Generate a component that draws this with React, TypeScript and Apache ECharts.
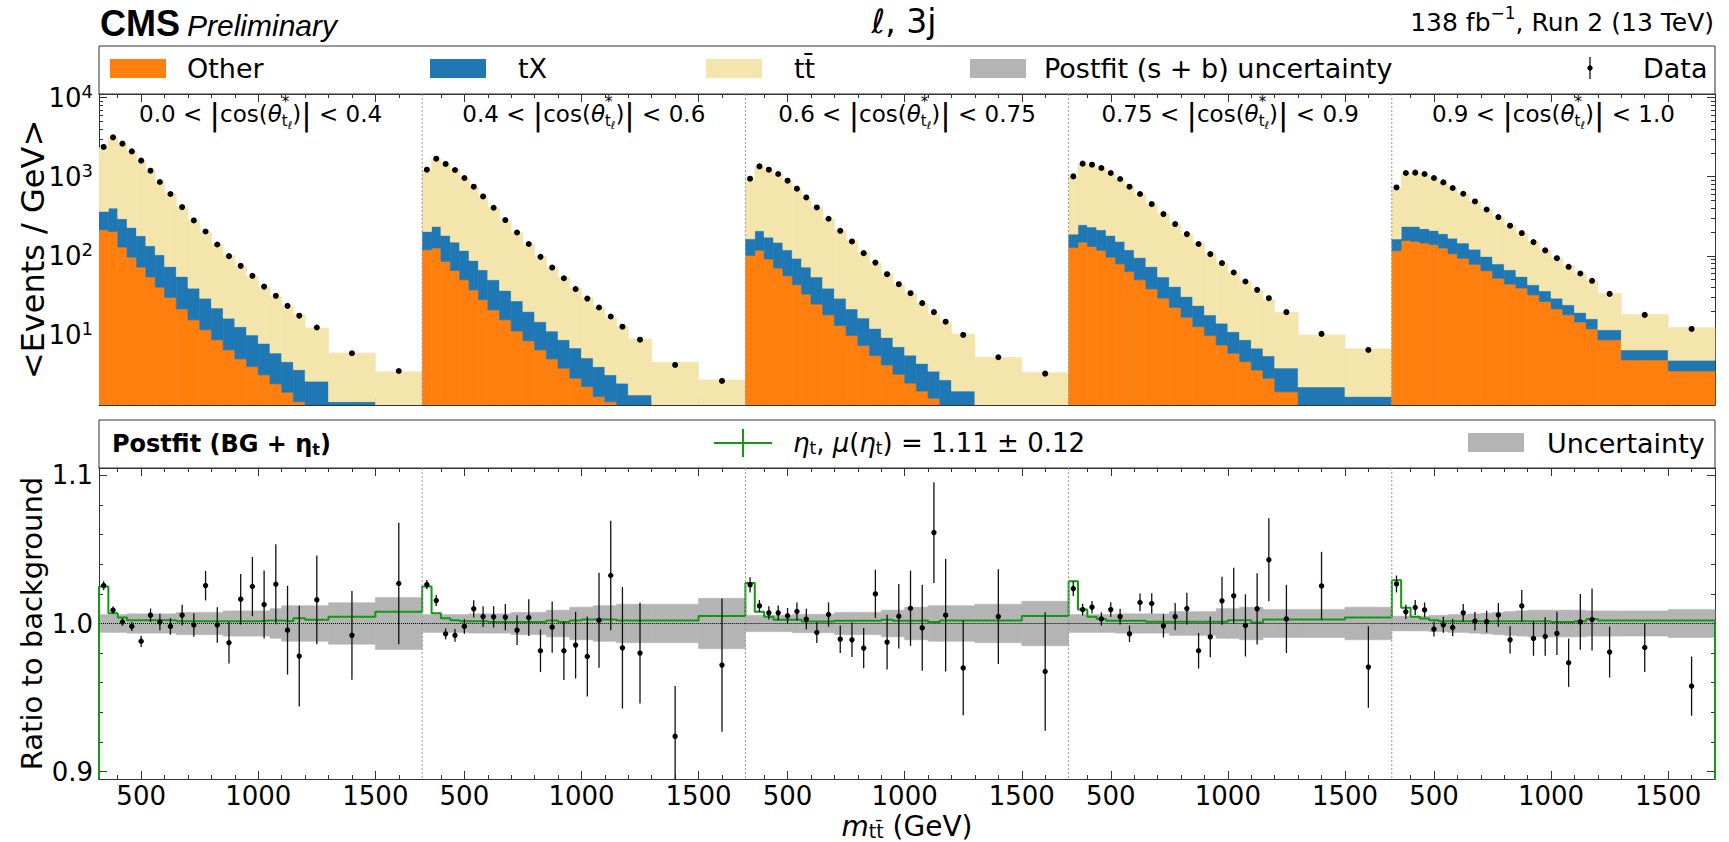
import React, { useEffect, useRef } from 'react';
import * as echarts from 'echarts';

// ---------------- binning / ticks ----------------
const EDGES = [320, 360, 400, 440, 480, 520, 560, 600, 650, 700, 750, 800, 850, 900, 950, 1000, 1050, 1100, 1150, 1200, 1300, 1500, 1700];
const SLICE_BOUNDS = [['0.0', '0.4'], ['0.4', '0.6'], ['0.6', '0.75'], ['0.75', '0.9'], ['0.9', '1.0']];
const X_MAJOR = [500, 1000, 1500];
const X_MINOR = [400, 600, 700, 800, 900, 1100, 1200, 1300, 1400, 1600];
const Y_LOG_MAJOR = [10, 100, 1000, 10000];
const Y_LOG_MINOR = [2, 3, 4, 5, 6, 7, 8, 9, 20, 30, 40, 50, 60, 70, 80, 90, 200, 300, 400, 500, 600, 700, 800, 900, 2000, 3000, 4000, 5000, 6000, 7000, 8000, 9000];
const R_MAJOR = [0.9, 1.0, 1.1];
const R_MINOR = [0.92, 0.94, 0.96, 0.98, 1.02, 1.04, 1.06, 1.08];

// ---------------- top panel: yields per GeV ----------------
const OTHER = [
  [213, 203, 129, 96, 72, 54, 40, 29.7, 21.3, 15.5, 11.6, 8.65, 6.46, 4.97, 3.97, 3.12, 2.4, 1.88, 1.43, 1.0, 0.5, 0.4],
  [119, 125, 85, 65, 49.7, 37, 27.8, 20.7, 15.5, 11.2, 8.4, 6.46, 4.97, 3.79, 2.83, 2.22, 1.66, 1.43, 1.1, 0.9, 0.6, 0.5],
  [101, 117, 91, 70, 55.8, 43, 32.7, 24.5, 17.9, 13.1, 9.8, 7.33, 5.47, 4.17, 3.18, 2.45, 1.95, 1.58, 1.2, 1.0, 0.7, 0.5],
  [127, 149, 131, 117, 96, 79, 63, 49.7, 38.2, 29.1, 22.2, 16.7, 12.7, 9.8, 7.46, 5.86, 4.59, 3.6, 2.83, 1.91, 1.0, 0.8],
  [116, 156, 152, 145, 138, 125, 106, 93, 78, 64.6, 52, 43.8, 39, 32, 26.4, 21.3, 17.9, 14.5, 11.9, 8.65, 4.83, 3.5],
];
const TX = [
  [151, 198, 165, 132, 107, 80, 63, 43.3, 33.4, 23.5, 17.5, 13.2, 9.8, 7.7, 6.0, 4.7, 3.5, 2.7, 2.2, 1.6, 0.93, 0.5],
  [84, 110, 96, 84, 67, 50, 38.7, 29, 20.9, 15.7, 11.3, 8.2, 6.2, 4.9, 4.0, 2.9, 2.3, 1.7, 1.35, 0.84, 0.4, 0.3],
  [63, 90, 81, 78, 63, 50, 39.3, 29.5, 21.1, 16, 11.5, 9.0, 6.6, 5.1, 3.9, 3.1, 2.4, 1.9, 1.5, 0.95, 0.3, 0.3],
  [61, 98, 100, 96, 85, 73, 56, 45.3, 34.8, 24.9, 18.6, 13.8, 10.8, 8.1, 6.6, 5.1, 4.1, 3.2, 2.6, 1.9, 1.2, 0.86],
  [47, 79, 83, 75, 71, 65, 61, 52, 43, 33.4, 27, 22.7, 15.7, 11, 9.6, 7.8, 6.1, 4.7, 4.1, 2.95, 1.63, 1.28],
];
const TTBAR = [
  [1954, 2719, 2321, 1865, 1435, 1050, 753, 532, 356, 241, 169, 117, 84, 60.7, 44.4, 32.4, 24.5, 18.8, 14.3, 9.6, 4.48, 2.51],
  [993, 1429, 1278, 1077, 848, 653, 494, 353, 246, 171, 120, 84.1, 60, 44.4, 31.8, 24.3, 18.2, 13.5, 10.4, 7.14, 3.51, 1.9],
  [756, 1127, 1046, 926, 766, 606, 473, 358, 253, 180, 133, 93.7, 68.3, 50, 36.5, 27.8, 20.9, 14.8, 11.9, 8.35, 4.2, 2.55],
  [798, 1201, 1173, 1071, 923, 779, 633, 501, 372, 284, 210, 156, 120, 88, 65.7, 49.4, 38.8, 29.9, 22.4, 15.5, 7.78, 5.0],
  [550, 870, 878, 852, 758, 658, 555, 460, 365, 287, 228, 177, 137, 108, 82, 64.8, 50.6, 40.4, 32.2, 22, 11.7, 7.6],
];
const DATA = [
  [2377, 3148, 2618, 2089, 1595, 1191, 857, 604, 413, 280, 203, 139, 99, 74.6, 55.8, 40.8, 31.2, 23.3, 17.5, 12.4, 5.86, 3.5],
  [1227, 1690, 1449, 1216, 963, 747, 563, 405, 283, 197, 141, 97, 71, 52, 38, 28.8, 22.2, 17.1, 12.7, 8.7, 4.17, 2.62],
  [944, 1350, 1227, 1082, 890, 705, 547, 409, 294, 207, 152, 108, 82, 58.6, 43.8, 33.7, 25.2, 19.4, 14.7, 10.0, 5.22, 3.24],
  [1009, 1462, 1419, 1288, 1114, 935, 747, 604, 451, 337, 252, 188, 141, 105, 81, 61.5, 47.3, 37.1, 29.1, 19.4, 10.3, 6.46],
  [732, 1114, 1125, 1082, 963, 847, 720, 609, 487, 385, 309, 240, 194, 149, 117, 93.3, 72.6, 59.7, 48.3, 33, 17.9, 11.9],
];

// ---------------- bottom panel: ratio to background ----------------
const RATIO = [
  [1.0256, 1.009, 1.001, 0.998, 0.988, 1.0056, 1.001, 0.998, 1.0056, 0.999, 1.0256, 0.999, 0.987, 1.0164, 1.025, 1.0128, 1.0265, 0.9955, 0.978, 1.016, 0.992, 1.027],
  [1.0263, 1.0155, 0.993, 0.992, 0.998, 1.0099, 1.0047, 1.0045, 1.0043, 0.9955, 1.004, 0.9816, 0.9975, 0.9816, 0.9854, 0.9777, 1.0022, 1.0324, 0.9836, 0.98, 0.9238, 0.9719],
  [1.0261, 1.0119, 1.0072, 1.0072, 1.0052, 1.0081, 1.0029, 0.9939, 1.0061, 0.9894, 0.989, 0.9834, 1.02, 0.9874, 1.0049, 1.0103, 0.9971, 1.0614, 1.0056, 0.97, 1.0047, 0.9676],
  [1.0236, 1.0094, 1.011, 1.0031, 1.0094, 1.0047, 0.993, 1.0142, 1.0135, 0.9984, 1.0047, 1.0101, 0.9816, 0.991, 1.0153, 1.0187, 0.9987, 1.0099, 1.043, 1.0031, 1.0254, 0.9706],
  [1.0267, 1.0079, 1.0108, 1.0092, 0.9962, 0.9991, 0.9973, 1.0072, 1.0016, 1.0013, 1.0058, 0.989, 1.0119, 0.9899, 0.9912, 0.9933, 0.9735, 1.0011, 1.0027, 0.9807, 0.9838, 0.9577],
];
const RATIO_ERR = [
  [0.003, 0.0025, 0.0025, 0.003, 0.0038, 0.0045, 0.0056, 0.0056, 0.007, 0.008, 0.01, 0.012, 0.014, 0.017, 0.02, 0.023, 0.027, 0.03, 0.034, 0.03, 0.03, 0.041],
  [0.003, 0.0037, 0.0037, 0.0043, 0.005, 0.0058, 0.007, 0.0072, 0.0088, 0.01, 0.0124, 0.0144, 0.0173, 0.0198, 0.0225, 0.027, 0.032, 0.037, 0.041, 0.034, 0.034, 0.045],
  [0.0052, 0.004, 0.0045, 0.005, 0.0053, 0.006, 0.007, 0.007, 0.0082, 0.0093, 0.0116, 0.0136, 0.0163, 0.0185, 0.0217, 0.0254, 0.029, 0.034, 0.038, 0.032, 0.032, 0.04],
  [0.005, 0.004, 0.0042, 0.0045, 0.005, 0.0053, 0.0056, 0.006, 0.007, 0.0079, 0.0092, 0.0107, 0.012, 0.0138, 0.0162, 0.0189, 0.021, 0.024, 0.028, 0.023, 0.023, 0.0275],
  [0.0057, 0.0048, 0.005, 0.005, 0.005, 0.0054, 0.0057, 0.006, 0.0064, 0.0073, 0.008, 0.0092, 0.0107, 0.0117, 0.013, 0.0146, 0.0163, 0.0188, 0.021, 0.0172, 0.0165, 0.02],
];
const SIGNAL_RATIO = [
  [1.025, 1.007, 1.004, 1.0022, 1.0022, 1.0022, 1.0022, 1.0022, 1.0016, 1.0016, 1.0016, 1.0016, 1.0016, 1.0016, 1.0016, 1.002, 1.002, 1.0016, 1.0036, 1.0025, 1.0045, 1.008],
  [1.025, 1.007, 1.0036, 1.0022, 1.0016, 1.0016, 1.0016, 1.001, 1.001, 1.001, 1.001, 1.001, 1.002, 1.001, 1.002, 1.0027, 1.0027, 1.0027, 1.002, 1.002, 1.002, 1.005],
  [1.0274, 1.0079, 1.0045, 1.0025, 1.0025, 1.0025, 1.0013, 1.0013, 1.0013, 1.0018, 1.0018, 1.0018, 1.0018, 1.0025, 1.0018, 1.0018, 1.002, 1.001, 1.002, 1.002, 1.002, 1.005],
  [1.0285, 1.0094, 1.0045, 1.003, 1.0018, 1.0018, 1.0018, 1.0018, 1.0011, 1.0011, 1.0011, 1.0011, 1.0011, 1.0011, 1.0011, 1.0022, 1.0022, 1.0007, 1.0027, 1.0027, 1.0027, 1.004],
  [1.0292, 1.0106, 1.0045, 1.0034, 1.0022, 1.0016, 1.0016, 1.0016, 1.0016, 1.0016, 1.0016, 1.0016, 1.0016, 1.0016, 1.0016, 1.001, 1.001, 1.0016, 1.003, 1.002, 1.002, 1.002],
];
const UNCERTAINTY = [
  [0.006, 0.006, 0.006, 0.0065, 0.0065, 0.0065, 0.0065, 0.0065, 0.0075, 0.0075, 0.0075, 0.0075, 0.0085, 0.0085, 0.0085, 0.0085, 0.01, 0.012, 0.012, 0.012, 0.014, 0.0175],
  [0.006, 0.006, 0.006, 0.006, 0.006, 0.0065, 0.0065, 0.0065, 0.0065, 0.0075, 0.0075, 0.0075, 0.009, 0.009, 0.011, 0.011, 0.012, 0.012, 0.013, 0.013, 0.013, 0.017],
  [0.0055, 0.0055, 0.0055, 0.0055, 0.0055, 0.0062, 0.0062, 0.0062, 0.0062, 0.0075, 0.0075, 0.0075, 0.0075, 0.009, 0.009, 0.011, 0.011, 0.012, 0.012, 0.012, 0.013, 0.015],
  [0.006, 0.006, 0.006, 0.006, 0.006, 0.0065, 0.0065, 0.0065, 0.0065, 0.0065, 0.008, 0.008, 0.008, 0.008, 0.01, 0.01, 0.011, 0.011, 0.0095, 0.0095, 0.0095, 0.011],
  [0.005, 0.005, 0.005, 0.005, 0.0055, 0.0055, 0.006, 0.006, 0.0065, 0.007, 0.0075, 0.008, 0.0085, 0.009, 0.009, 0.009, 0.009, 0.009, 0.0085, 0.0085, 0.0085, 0.0095],
];

// ---------------- layout & style ----------------
const L = 99;
const R = 1715;
const SW = (R - L) / 5;
const LEG1_Y = 46;
const TOP_Y = 94;
const TOP_H = 311;
const LEG2_Y = 420;
const BOT_Y = 468;
const BOT_H = 311;
const Y_MIN = 1.3;
const Y_MAX = 11100;
const LOG_FLOOR = 1e-3;
const R_MIN = 0.895;
const R_MAX = 1.105;
const FONT = '"DejaVu Sans", sans-serif';
const SANS = '"Liberation Sans", Arial, sans-serif';
const FRAME = '#333333';
const C_OTHER = '#ff7f0e';
const C_TX = '#1f77b4';
const C_TT = '#f3e5ab';
const C_UNC = '#b4b4b4';
const C_SIG = '#119911';

type Seg = { t: string; size: number; style?: string; weight?: string; dy?: number; adv?: boolean; family?: string };

let measureCtx: CanvasRenderingContext2D | null = null;
function fontOf(s: Seg) {
  return `${s.style || 'normal'} ${s.weight || 'normal'} ${s.size}px ${s.family || FONT}`;
}
function widthOf(s: Seg) {
  if (!measureCtx) measureCtx = document.createElement('canvas').getContext('2d');
  measureCtx!.font = fontOf(s);
  return measureCtx!.measureText(s.t).width;
}
function mathText(segs: Seg[], x: number, y: number, align: 'left' | 'center' | 'right', z = 100): any[] {
  const widths = segs.map(widthOf);
  const total = segs.reduce((acc, s, i) => acc + (s.adv === false ? 0 : widths[i]), 0);
  let cx = align === 'left' ? x : align === 'center' ? x - total / 2 : x - total;
  const out: any[] = [];
  segs.forEach((s, i) => {
    out.push({
      type: 'text',
      z,
      silent: true,
      style: {
        text: s.t,
        x: cx,
        y: y + (s.dy || 0),
        font: fontOf(s),
        fill: '#000',
        align: 'left',
        textAlign: 'left',
        verticalAlign: 'middle',
        textVerticalAlign: 'middle',
      },
    });
    if (s.adv !== false) cx += widths[i];
  });
  return out;
}

function histSeries(g: number, lows: number[], highs: number[], color: string, z: number) {
  const data = lows.map((lo, i) => [EDGES[i], EDGES[i + 1], lo, highs[i]]);
  return {
    type: 'custom',
    xAxisIndex: 4 * g,
    yAxisIndex: 2 * g,
    clip: true,
    silent: true,
    z,
    encode: { x: [0, 1], y: [2, 3] },
    data,
    renderItem: (_p: any, api: any) => {
      const y0 = api.value(2);
      const y1 = api.value(3);
      if (!(y1 > y0)) return null;
      const a = api.coord([api.value(0), y1]);
      const b = api.coord([api.value(1), y0]);
      return {
        type: 'rect',
        shape: { x: a[0], y: a[1], width: b[0] - a[0], height: b[1] - a[1] },
        style: { fill: color, stroke: color, lineWidth: 0.6 },
      };
    },
  };
}

function buildOption() {
  const grid: any[] = [];
  const xAxis: any[] = [];
  const yAxis: any[] = [];
  const series: any[] = [];
  const line = { color: FRAME, width: 1 };

  for (let panel = 0; panel < 2; panel++) {
    for (let k = 0; k < 5; k++) {
      const g = panel * 5 + k;
      grid.push({ left: L + k * SW, top: panel ? BOT_Y : TOP_Y, width: SW, height: panel ? BOT_H : TOP_H });
      const xc = { type: 'value', gridIndex: g, min: 320, max: 1700, splitLine: { show: false } };
      xAxis.push({
        ...xc, position: 'bottom',
        axisLine: { show: true, lineStyle: line },
        axisTick: { show: true, inside: true, length: 8, customValues: X_MAJOR, lineStyle: line },
        axisLabel: {
          show: panel === 1, customValues: X_MAJOR, fontSize: 26, fontFamily: FONT, color: '#000', margin: 4,
          formatter: (v: number) => String(Math.round(v)),
        },
      });
      xAxis.push({
        ...xc, position: 'bottom',
        axisLine: { show: false },
        axisTick: { show: true, inside: true, length: 4, customValues: X_MINOR, lineStyle: line },
        axisLabel: { show: false },
      });
      xAxis.push({
        ...xc, position: 'top',
        axisLine: { show: true, lineStyle: line },
        axisTick: { show: true, inside: true, length: 8, customValues: X_MAJOR, lineStyle: line },
        axisLabel: { show: false },
      });
      xAxis.push({
        ...xc, position: 'top',
        axisLine: { show: false },
        axisTick: { show: true, inside: true, length: 4, customValues: X_MINOR, lineStyle: line },
        axisLabel: { show: false },
      });

      const yc: any = panel === 0
        ? { type: 'log', logBase: 10, min: Y_MIN, max: Y_MAX }
        : { type: 'value', min: R_MIN, max: R_MAX };
      const major = panel === 0 ? Y_LOG_MAJOR : R_MAJOR;
      const minor = panel === 0 ? Y_LOG_MINOR : R_MINOR;
      const visible = k === 0 || k === 4;
      const position = k === 4 ? 'right' : 'left';
      const labelCfg: any = panel === 0
        ? {
            show: k === 0, customValues: major, margin: 6,
            formatter: (v: number) => `{b|10}{s|${Math.round(Math.log10(v))}}`,
            rich: {
              b: { fontSize: 26, fontFamily: FONT, color: '#000', lineHeight: 30 },
              s: { fontSize: 18, fontFamily: FONT, color: '#000', lineHeight: 20, verticalAlign: 'top' },
            },
          }
        : {
            show: k === 0, customValues: major, margin: 6, fontSize: 26, fontFamily: FONT, color: '#000',
            formatter: (v: number) => v.toFixed(1),
          };
      yAxis.push({
        ...yc, gridIndex: g, position, show: visible, splitLine: { show: false },
        axisLine: { show: true, lineStyle: line },
        axisTick: { show: true, inside: true, length: 8, customValues: major, lineStyle: line },
        axisLabel: labelCfg,
      });
      yAxis.push({
        ...yc, gridIndex: g, position, show: visible, splitLine: { show: false },
        axisLine: { show: false },
        axisTick: { show: true, inside: true, length: 4, customValues: minor, lineStyle: line },
        axisLabel: { show: false },
      });

      if (panel === 0) {
        const other = OTHER[k];
        const txTop = other.map((v, i) => v + TX[k][i]);
        const total = txTop.map((v, i) => v + TTBAR[k][i]);
        series.push(histSeries(g, other.map(() => LOG_FLOOR), other, C_OTHER, 2));
        series.push(histSeries(g, other, txTop, C_TX, 2));
        series.push(histSeries(g, txTop, total, C_TT, 2));
        series.push({
          type: 'scatter', xAxisIndex: 4 * g, yAxisIndex: 2 * g, silent: true, z: 5,
          symbolSize: 6, itemStyle: { color: '#000', opacity: 1 },
          data: DATA[k].map((v, i) => [(EDGES[i] + EDGES[i + 1]) / 2, v]),
        });
      } else {
        const u = UNCERTAINTY[k];
        series.push(histSeries(g, u.map((e) => 1 - e), u.map((e) => 1 + e), C_UNC, 1));
        const sig = SIGNAL_RATIO[k];
        const prev = k === 0 ? 0.8 : SIGNAL_RATIO[k - 1][SIGNAL_RATIO[k - 1].length - 1];
        const pts: number[][] = [[EDGES[0], prev]];
        sig.forEach((v, i) => pts.push([EDGES[i], v]));
        pts.push([EDGES[EDGES.length - 1], sig[sig.length - 1]]);
        if (k === 4) pts.push([EDGES[EDGES.length - 1], 0.8]);
        series.push({
          type: 'line', xAxisIndex: 4 * g, yAxisIndex: 2 * g, step: 'end', symbol: 'none', silent: true, z: 3,
          lineStyle: { color: C_SIG, width: 2 }, data: pts,
          markLine: {
            silent: true, symbol: ['none', 'none'], label: { show: false },
            lineStyle: { color: '#000', type: 'dotted', width: 1 },
            data: [{ yAxis: 1 }],
          },
        });
        series.push({
          type: 'custom', xAxisIndex: 4 * g, yAxisIndex: 2 * g, clip: true, silent: true, z: 5,
          encode: { x: 0, y: 1 },
          data: RATIO[k].map((v, i) => [(EDGES[i] + EDGES[i + 1]) / 2, v, RATIO_ERR[k][i]]),
          renderItem: (_p: any, api: any) => {
            const x = api.value(0);
            const y = api.value(1);
            const e = api.value(2);
            const p = api.coord([x, y]);
            const t = api.coord([x, y + e]);
            const b = api.coord([x, y - e]);
            return {
              type: 'group',
              children: [
                { type: 'line', shape: { x1: p[0], y1: t[1], x2: p[0], y2: b[1] }, style: { stroke: '#111', lineWidth: 1.3 } },
                { type: 'circle', shape: { cx: p[0], cy: p[1], r: 2.7 }, style: { fill: '#000' } },
              ],
            };
          },
        });
      }
    }
  }

  // ---------------- graphic: frames, legends, titles ----------------
  const G: any[] = [];
  G.push({ type: 'rect', z: 100, silent: true, shape: { x: L, y: LEG1_Y, width: R - L, height: TOP_Y - LEG1_Y }, style: { fill: 'none', stroke: FRAME, lineWidth: 1 } });
  G.push({ type: 'rect', z: 100, silent: true, shape: { x: L, y: LEG2_Y, width: R - L, height: BOT_Y - LEG2_Y }, style: { fill: 'none', stroke: FRAME, lineWidth: 1 } });
  for (let k = 1; k < 5; k++) {
    const x = L + k * SW;
    for (const [y0, h] of [[TOP_Y, TOP_H], [BOT_Y, BOT_H]]) {
      G.push({ type: 'line', z: 100, silent: true, shape: { x1: x, y1: y0, x2: x, y2: y0 + h }, style: { stroke: '#999', lineWidth: 1, lineDash: [2, 2] } });
    }
  }
  // top legend
  const patch = (x: number, y: number, color: string) =>
    ({ type: 'rect', z: 100, silent: true, shape: { x, y, width: 56, height: 19 }, style: { fill: color } });
  G.push(patch(110, 59, C_OTHER), patch(430, 59, C_TX), patch(706, 59, C_TT), patch(970, 59, C_UNC));
  G.push(...mathText([{ t: 'Other', size: 27 }], 187, 68, 'left'));
  G.push(...mathText([{ t: 'tX', size: 27 }], 518, 68, 'left'));
  G.push(...mathText([{ t: 'tt\u0304', size: 27 }], 794, 68, 'left'));
  G.push(...mathText([{ t: 'Postfit (s + b) uncertainty', size: 27 }], 1044, 68, 'left'));
  G.push({ type: 'line', z: 100, silent: true, shape: { x1: 1590, y1: 57, x2: 1590, y2: 79 }, style: { stroke: '#111', lineWidth: 1.3 } });
  G.push({ type: 'circle', z: 100, silent: true, shape: { cx: 1590, cy: 68, r: 2.7 }, style: { fill: '#000' } });
  G.push(...mathText([{ t: 'Data', size: 27 }], 1643, 68, 'left'));

  // bottom legend
  G.push(...mathText([
    { t: 'Postfit (BG + ', size: 24, weight: 'bold' },
    { t: '\u03b7', size: 24, weight: 'bold' },
    { t: 't', size: 16, weight: 'bold', dy: 5 },
    { t: ')', size: 24, weight: 'bold' },
  ], 112, 444, 'left'));
  G.push({ type: 'line', z: 100, silent: true, shape: { x1: 714, y1: 443, x2: 772, y2: 443 }, style: { stroke: C_SIG, lineWidth: 2 } });
  G.push({ type: 'line', z: 100, silent: true, shape: { x1: 743, y1: 429, x2: 743, y2: 457 }, style: { stroke: C_SIG, lineWidth: 2 } });
  G.push(...mathText([
    { t: '\u03b7', size: 26, style: 'italic' },
    { t: 't', size: 17, dy: 5 },
    { t: ', ', size: 26 },
    { t: '\u03bc', size: 26, style: 'italic' },
    { t: '(', size: 26 },
    { t: '\u03b7', size: 26, style: 'italic' },
    { t: 't', size: 17, dy: 5 },
    { t: ') = 1.11 \u00b1 0.12', size: 26 },
  ], 793, 443, 'left'));
  G.push({ type: 'rect', z: 100, silent: true, shape: { x: 1468, y: 433, width: 56, height: 19 }, style: { fill: C_UNC } });
  G.push(...mathText([{ t: 'Uncertainty', size: 27 }], 1547, 443, 'left'));

  // slice labels
  SLICE_BOUNDS.forEach(([lo, hi], k) => {
    G.push(...mathText([
      { t: `${lo} < `, size: 23 },
      { t: '|', size: 31 },
      { t: 'cos(', size: 23 },
      { t: '\u03b8', size: 23, style: 'italic' },
      { t: '*', size: 15, dy: -12, adv: false },
      { t: 't', size: 15, dy: 7 },
      { t: '\u2113', size: 11, dy: 11 },
      { t: ')', size: 23 },
      { t: '|', size: 31 },
      { t: ` < ${hi}`, size: 23 },
    ], L + (k + 0.5) * SW, 114, 'center'));
  });

  // header
  const cmsSeg: Seg = { t: 'CMS', size: 36, weight: 'bold', family: SANS };
  G.push(...mathText([cmsSeg], 100, 23, 'left'));
  G.push(...mathText([{ t: 'Preliminary', size: 30, style: 'italic', family: SANS }], 100 + widthOf(cmsSeg) + 7, 25, 'left'));
  G.push(...mathText([{ t: '\u2113, 3j', size: 33 }], 904, 21, 'center'));
  G.push(...mathText([
    { t: '138 fb', size: 25 },
    { t: '\u22121', size: 17, dy: -9 },
    { t: ', Run 2 (13 TeV)', size: 25 },
  ], 1714, 22, 'right'));

  // axis titles
  G.push({
    type: 'text', z: 100, silent: true, x: 33, y: TOP_Y + TOP_H / 2, rotation: Math.PI / 2,
    style: { text: '<Events / GeV>', x: 0, y: 0, font: `32px ${FONT}`, fill: '#000', align: 'center', textAlign: 'center', verticalAlign: 'middle', textVerticalAlign: 'middle' },
  });
  G.push({
    type: 'text', z: 100, silent: true, x: 32, y: BOT_Y + BOT_H / 2, rotation: Math.PI / 2,
    style: { text: 'Ratio to background', x: 0, y: 0, font: `29px ${FONT}`, fill: '#000', align: 'center', textAlign: 'center', verticalAlign: 'middle', textVerticalAlign: 'middle' },
  });
  G.push(...mathText([
    { t: 'm', size: 28, style: 'italic' },
    { t: 'tt\u0304', size: 19, dy: 5 },
    { t: ' (GeV)', size: 28 },
  ], (L + R) / 2, 826, 'center'));

  return {
    animation: false,
    backgroundColor: '#ffffff',
    textStyle: { fontFamily: FONT },
    grid,
    xAxis,
    yAxis,
    series,
    graphic: { elements: G },
  };
}

export default function App() {
  const ref = useRef<HTMLDivElement>(null);
  useEffect(() => {
    document.body.style.margin = '0';
    const chart = echarts.init(ref.current!, null, { renderer: 'svg' });
    chart.setOption(buildOption() as any);
    return () => chart.dispose();
  }, []);
  return <div ref={ref} style={{ width: 1729, height: 842 }} />;
}
